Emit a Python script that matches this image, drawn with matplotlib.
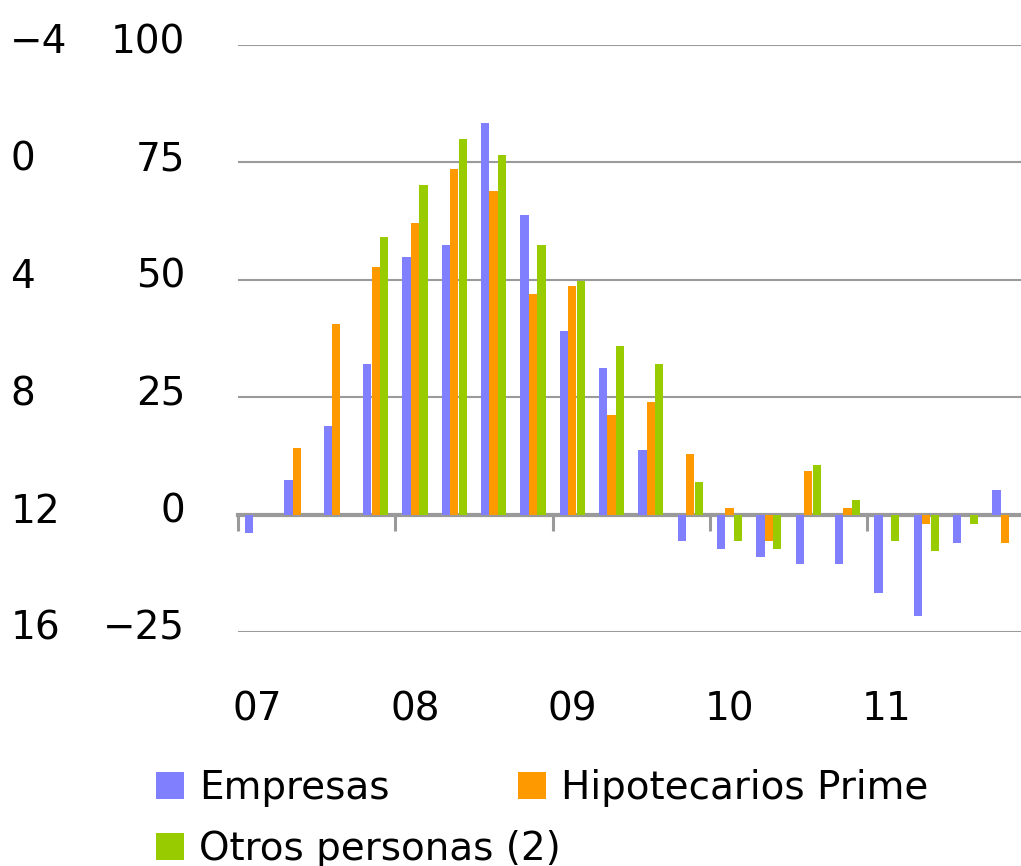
import numpy as np
import matplotlib.pyplot as plt
import matplotlib.transforms as mtransforms

# Datos trimestrales 2007-2011
trimestres = np.arange(20)
empresas = [-4, 7.3, 18.8, 32, 54.9, 57.5, 83.4, 63.8, 39.2, 31.2,
            13.7, -5.6, -7.3, -9, -10.6, -10.6, -16.6, -21.6, -6, 5.3]
hipotecarios = [np.nan, 14.2, 40.5, 52.8, 62.1, 73.6, 69, 46.9, 48.6, 21.3,
                23.9, 12.9, 1.5, -5.6, 9.2, 1.5, np.nan, -2.1, np.nan, -6]
otros = [np.nan, np.nan, np.nan, 59.1, 70.2, 79.9, 76.6, 57.5, 49.8, 35.9,
         32, 7, -5.6, -7.3, 10.5, 3.2, -5.6, -7.7, -2.1, np.nan]
anios = ['07', '08', '09', '10', '11']
ticks_izq = [-4, 0, 4, 8, 12, 16]

plt.rcParams['font.family'] = 'DejaVu Sans'
plt.rcParams['font.size'] = 28

W, H = 1021, 866
fig = plt.figure(figsize=(W / 100, H / 100), dpi=100)
ax = fig.add_axes([238 / W, 1 - 632 / H, (1024.5 - 238) / W, (632 - 45) / H])

ancho = 0.21
gris = '#9a9a9a'
ax.bar(trimestres - 0.215, empresas, ancho, color='#8080ff', label='Empresas')
ax.bar(trimestres, hipotecarios, ancho, color='#ff9900', label='Hipotecarios Prime')
ax.bar(trimestres + 0.215, otros, ancho, color='#99cc00', label='Otros personas (2)')

ax.set_xlim(-0.5, 19.5)
ax.set_ylim(-25, 100)
ax.set_yticks([-25, 0, 25, 50, 75, 100])
ax.set_xticks(trimestres[::4], anios)
ax.set_axisbelow(True)
ax.yaxis.grid(True, color=gris, lw=1.5)
for s in ax.spines.values():
    s.set_visible(False)
ax.tick_params(axis='y', length=0, pad=38)
ax.tick_params(axis='x', length=0, pad=42)

subir = mtransforms.ScaledTranslation(0, 7 / 100, fig.dpi_scale_trans)
for lab in ax.get_yticklabels():
    lab.set_transform(lab.get_transform() + subir)

# eje secundario (escala invertida a la izquierda)
sec = ax.secondary_yaxis('left', functions=(lambda v: -4 + (100 - v) * 4 / 25,
                                            lambda s: 100 - (s + 4) * 25 / 4))
sec.set_yticks(ticks_izq)
sec.spines['left'].set_visible(False)
sec.tick_params(length=0, pad=164)
for lab in sec.get_yticklabels():
    lab.set_horizontalalignment('left')
    lab.set_transform(lab.get_transform() + subir)

# linea de cero con marcas de año
cero = ax.secondary_xaxis(0.2)
cero.set_xticks(np.arange(-0.5, 16, 4))
cero.spines['bottom'].set_color(gris)
cero.spines['bottom'].set_linewidth(3)
cero.tick_params(direction='out', length=11.5, width=2.2, color=gris, labelbottom=False)

h, l = ax.get_legend_handles_labels()
kw = dict(frameon=False, borderpad=0, borderaxespad=0, handlelength=0.72,
          handleheight=0.72, handletextpad=0.39, fontsize=28)
leg1 = fig.legend([h[0], h[1]], [l[0], l[1]], loc='center left', ncol=2,
                  columnspacing=3.3, bbox_to_anchor=(156 / W, 1 - 788 / H), **kw)
leg2 = fig.legend([h[2]], [l[2]], loc='center left',
                  bbox_to_anchor=(156 / W, 1 - 849 / H), **kw)

fig.savefig('out.png', dpi=100)
